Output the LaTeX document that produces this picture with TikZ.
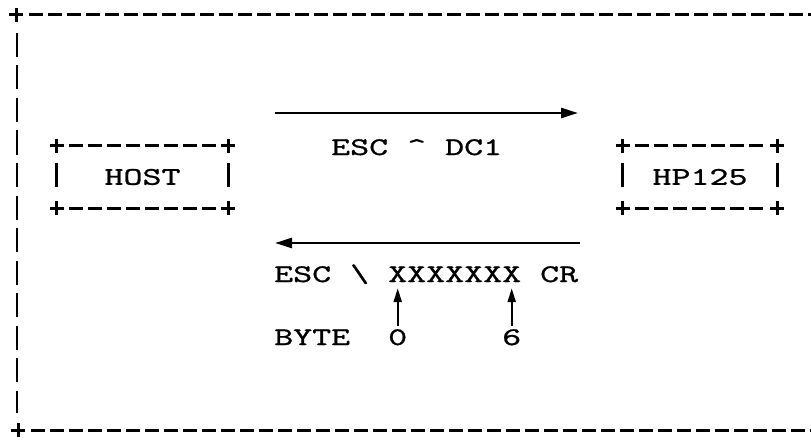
\documentclass[tikz,border=0pt]{standalone}
\usepackage{fontspec}
\usetikzlibrary{arrows.meta}
% typewriter face, widened to a 19pt character pitch and inked a little heavier
\newfontfamily\typew{lmmono10-regular.otf}[FakeStretch=1.425, FakeBold=0.9]

\tikzset{
  lbl/.style={font=\typew\fontsize{25.4}{25.4}\selectfont, inner sep=0pt, anchor=base west},
  termbox/.style={font=\typew\fontsize{25.4}{25.4}\selectfont, inner sep=0pt, minimum height=62pt},
  hrule/.style={line width=3pt, dash pattern=on 14pt off 5pt},
  vrule/.style={line width=2.8pt, dash pattern=on 24pt off 8.5pt},
  flow/.style={line width=2.6pt, -{Triangle[length=17pt,width=10pt]}},
  ptr/.style={line width=2.2pt, -{Triangle[length=14pt,width=8pt]}},
  corner/.pic={\draw[line width=3pt] (-7pt,0pt) -- (7pt,0pt) (0pt,-7pt) -- (0pt,7pt);}
}

\begin{document}
\begin{tikzpicture}[x=1pt,y=1pt]
  \useasboundingbox (0,0) rectangle (811,440);
  \fill[white] (0,0) rectangle (811,440);

  % outer frame: top, left side and bottom
  \coordinate (tl) at (16,425);
  \coordinate (tr) at (811,425);
  \coordinate (bl) at (18,10);
  \coordinate (br) at (811,10);
  \pic at (tl) {corner};
  \pic at (bl) {corner};
  \draw[hrule] ([xshift=13pt]tl) -- (tr);
  \draw[hrule] ([xshift=13pt]bl) -- (br);
  \draw[vrule] (17,407) -- (17,27);

  % the two stations
  \node[termbox, minimum width=171pt] (host) at (142.5,263) {HOST};
  \node[termbox, minimum width=154pt] (hp) at (700,263) {HP125};
  \foreach \b in {host,hp} {
    \pic at (\b.north west) {corner};
    \pic at (\b.north east) {corner};
    \pic at (\b.south west) {corner};
    \pic at (\b.south east) {corner};
    \draw[hrule, shorten <=12pt, shorten >=12pt] (\b.north west) -- (\b.north east);
    \draw[hrule, shorten <=12pt, shorten >=12pt] (\b.south west) -- (\b.south east);
    \draw[vrule, shorten <=17pt, shorten >=17pt] (\b.north west) -- (\b.south west);
    \draw[vrule, shorten <=17pt, shorten >=17pt] (\b.north east) -- (\b.south east);
  }

  % request, host to terminal
  \coordinate (a1s) at (275,327);
  \coordinate (a1e) at (578,327);
  \draw[flow] (a1s) -- (a1e);
  \node[lbl] (req) at (331,285) {ESC \textasciicircum{} DC1};

  % reply, terminal to host
  \coordinate (a2s) at (580,197);
  \coordinate (a2e) at (275,197);
  \draw[flow] (a2s) -- (a2e);
  \node[lbl] (esc) at (274,158) {ESC \textbackslash};
  \node[lbl] (xs) at (388,158) {XXXXXXX};
  \node[lbl] (cr) at (540,158) {CR};

  % byte numbering
  \node[lbl] (byte) at (274,95) {BYTE};
  \node[lbl] (b0) at (388,95) {0};
  \node[lbl] (b6) at (502,95) {6};
  \draw[ptr] ([yshift=3pt]b0.north) -- ([yshift=-6pt]b0.north |- xs.south);
  \draw[ptr] ([yshift=3pt]b6.north) -- ([yshift=-6pt]b6.north |- xs.south);
\end{tikzpicture}
\end{document}
